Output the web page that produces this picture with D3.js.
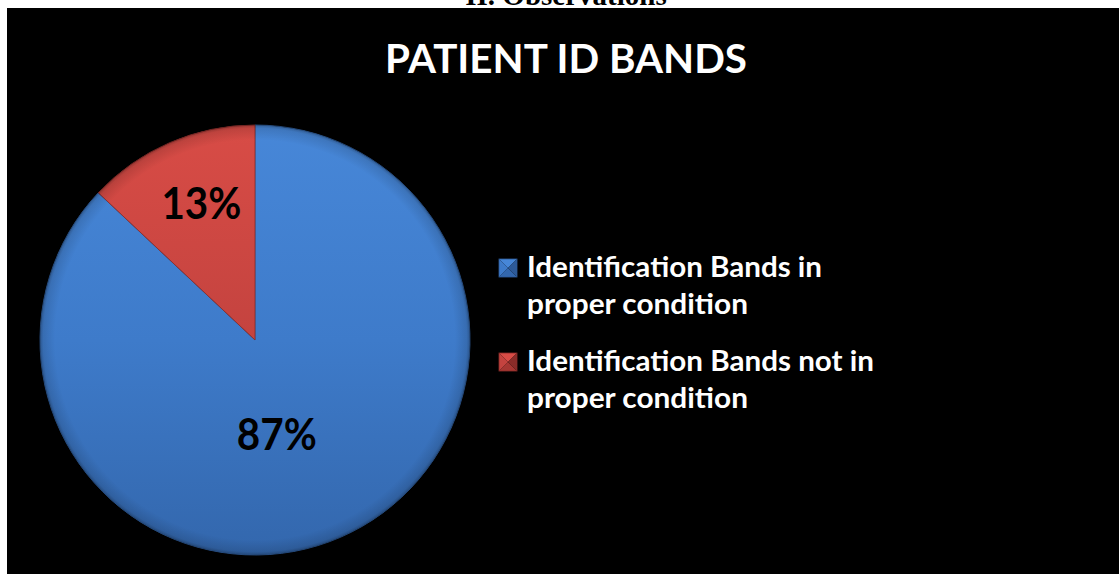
<!DOCTYPE html>
<html>
<head>
<meta charset="utf-8">
<script src="https://cdn.jsdelivr.net/npm/d3@7"></script>
<style>
  body { margin: 0; background: #fff; }
  svg { display: block; }
</style>
</head>
<body>
<div id="chart"></div>
<script>
// chart data
var categories = ["Identification Bands in proper condition", "Identification Bands not in proper condition"];
var values = [87, 13];
var legendLines = [["Identification Bands in", "proper condition"], ["Identification Bands not in", "proper condition"]];
var title = "PATIENT ID BANDS";
var heading = "II.  Observations";

var width = 1120, height = 574;
var cx = 255, cy = 340, radius = 215;

var colors = [
  { top: "#4787d8", mid: "#3e7bca", bottom: "#3367ad", edge: "#2d5a98" },
  { top: "#d84c46", mid: "#c4433f", bottom: "#a73733", edge: "#8a2c29" }
];

var svg = d3.select("#chart").append("svg")
    .attr("width", width)
    .attr("height", height);

var defs = svg.append("defs");

// page heading, mostly hidden behind the chart box
svg.append("text")
    .attr("x", 566)
    .attr("y", 5)
    .attr("text-anchor", "middle")
    .style("font-family", "'Liberation Serif', serif")
    .style("font-weight", "bold")
    .style("font-size", "29px")
    .text(heading);

svg.append("rect")
    .attr("x", 7)
    .attr("y", 8)
    .attr("width", 1112)
    .attr("height", 566)
    .style("fill", "#000");

svg.append("text")
    .attr("x", 566)
    .attr("y", 73)
    .attr("text-anchor", "middle")
    .attr("textLength", 362)
    .attr("lengthAdjust", "spacingAndGlyphs")
    .style("font-family", "Lato, sans-serif")
    .style("font-weight", "bold")
    .style("font-size", "40px")
    .style("fill", "#fff")
    .text(title);

// gradients for the bevelled look
colors.forEach(function (c, i) {
  var gr = defs.append("linearGradient")
      .attr("id", "grad" + i)
      .attr("gradientUnits", "userSpaceOnUse")
      .attr("x1", 0).attr("y1", -radius)
      .attr("x2", 0).attr("y2", radius);
  gr.append("stop").attr("offset", "0%").attr("stop-color", c.top);
  gr.append("stop").attr("offset", "50%").attr("stop-color", c.mid);
  gr.append("stop").attr("offset", "100%").attr("stop-color", c.bottom);
});

var rim = defs.append("radialGradient")
    .attr("id", "rim")
    .attr("gradientUnits", "userSpaceOnUse")
    .attr("cx", 0).attr("cy", 0).attr("r", radius);
rim.append("stop").attr("offset", "0.93").attr("stop-color", "#000").attr("stop-opacity", 0);
rim.append("stop").attr("offset", "0.985").attr("stop-color", "#000").attr("stop-opacity", 0.12);
rim.append("stop").attr("offset", "1").attr("stop-color", "#000").attr("stop-opacity", 0.3);

var pie = d3.pie().sort(null).value(function (d) { return d; });
var arc = d3.arc().innerRadius(0).outerRadius(radius);
var arcs = pie(values);

var g = svg.append("g").attr("transform", "translate(" + cx + "," + cy + ")");

g.selectAll(".slice")
    .data(arcs)
  .enter().append("path")
    .attr("class", "slice")
    .attr("d", arc)
    .style("fill", function (d, i) { return "url(#grad" + i + ")"; })
    .style("stroke", function (d, i) { return colors[i].edge; })
    .style("stroke-width", 0.8);

g.append("circle")
    .attr("r", radius)
    .style("fill", "url(#rim)");

// data labels, placed like Excel's best fit (angle in degrees clockwise from 12 o'clock)
var labelPos = [
  { r: 0.45, a: 167 },
  { r: 0.68, a: -21.5 }
];
g.selectAll(".pct")
    .data(arcs)
  .enter().append("text")
    .attr("class", "pct")
    .attr("x", function (d, i) { return radius * labelPos[i].r * Math.sin(labelPos[i].a * Math.PI / 180); })
    .attr("y", function (d, i) { return -radius * labelPos[i].r * Math.cos(labelPos[i].a * Math.PI / 180); })
    .attr("dy", "0.35em")
    .attr("text-anchor", "middle")
    .attr("textLength", 80)
    .attr("lengthAdjust", "spacingAndGlyphs")
    .style("font-family", "Lato, sans-serif")
    .style("font-weight", "bold")
    .style("font-size", "44px")
    .style("fill", "#000")
    .text(function (d) { return d3.format(".0f")(d.value) + "%"; });

// legend
var legend = svg.selectAll(".legend")
    .data(categories)
  .enter().append("g")
    .attr("class", "legend")
    .attr("transform", function (d, i) { return "translate(499," + (259 + i * 94) + ")"; });

var sq = 18;
var facets = [
  { pts: [[0, 0], [sq, 0], [sq / 2, sq / 2]], k: "top" },
  { pts: [[0, sq], [sq, sq], [sq / 2, sq / 2]], k: "bottom" },
  { pts: [[0, 0], [0, sq], [sq / 2, sq / 2]], k: "mid" },
  { pts: [[sq, 0], [sq, sq], [sq / 2, sq / 2]], k: "edge" }
];
legend.each(function (d, i) {
  var sel = d3.select(this);
  facets.forEach(function (f) {
    sel.append("polygon")
        .attr("points", f.pts.map(function (p) { return p.join(","); }).join(" "))
        .style("fill", colors[i][f.k]);
  });
  sel.append("rect")
      .attr("width", sq).attr("height", sq)
      .style("fill", "none")
      .style("stroke", colors[i].edge)
      .style("stroke-width", 0.8);

  var w = [[295, 221], [347, 221]][i];
  sel.selectAll("text")
      .data(legendLines[i])
    .enter().append("text")
      .attr("x", 28)
      .attr("y", function (t, j) { return 18 + j * 37; })
      .attr("textLength", function (t, j) { return w[j]; })
      .attr("lengthAdjust", "spacingAndGlyphs")
      .style("font-family", "Lato, sans-serif")
      .style("font-weight", "bold")
      .style("font-size", "28px")
      .style("fill", "#fff")
      .text(function (t) { return t; });
});
</script>
</body>
</html>
